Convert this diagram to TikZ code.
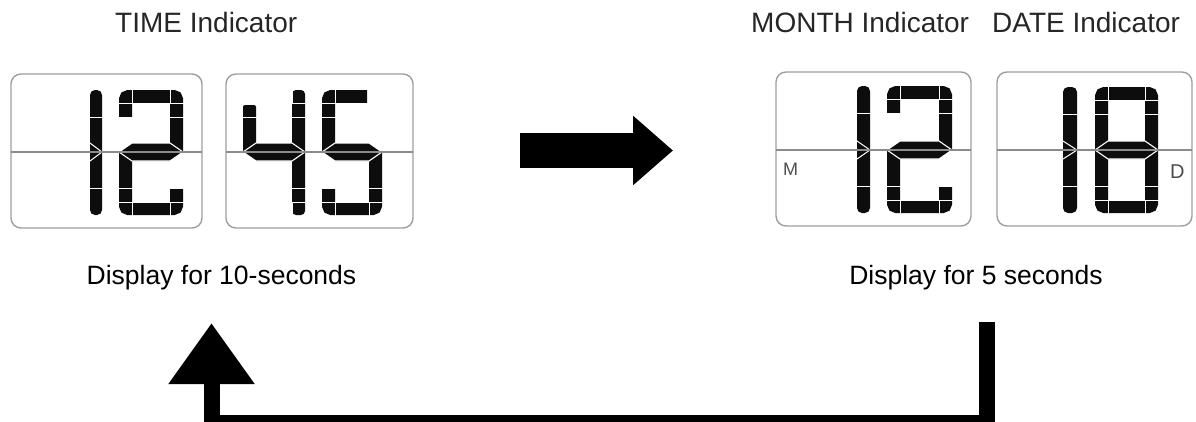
\documentclass[tikz,border=0pt]{standalone}
\usepackage{fontspec}
\setmainfont{Liberation Sans}
\usetikzlibrary{arrows.meta}
\tikzset{
  panel/.style={draw=black!38, line width=1.4pt, rounded corners=10pt, inner sep=0pt},
  midline/.style={draw=black!45, line width=1.1pt},
  digitline/.style={draw=black!95, line width=13pt, rounded corners=3pt, line cap=butt},
  digitbar/.style={fill=black!95, rounded corners=5pt},
  hexseg/.style={fill=black!95, draw=white, line width=1.1pt, line join=miter},
  gapline/.style={draw=white, line width=1pt},
  toplabel/.style={inner sep=0pt, text=black!85, font=\fontsize{28}{30}\selectfont},
  botlabel/.style={inner sep=0pt, text=black, font=\fontsize{26.5}{30}\selectfont},
  sidelabel/.style={inner sep=0pt, text=black!70},
  bigarrow/.style={line width=35pt, draw=black, -{Triangle[width=67pt,length=40pt]}},
  loopline/.style={line width=16pt, draw=black, line join=miter, -{Triangle[width=82pt,length=61pt]}}
}
% #1 L, #2 R, #3 T, #4 B
\newcommand\DigGaps[4]{%
  \draw[gapline] ({#1-1},{#3+13}) -- ({#2+1},{#3+13});
  \draw[gapline] ({#1-1},{#3+27}) -- ({#2+1},{#3+27});
  \draw[gapline] ({#1-1},{#4-27}) -- ({#2+1},{#4-27});
  \draw[gapline] ({#1-1},{#4-13}) -- ({#2+1},{#4-13});
  \draw[gapline] ({#1+13},{#3-1}) -- ({#1+13},{#3+13});
  \draw[gapline] ({#2-13},{#3-1}) -- ({#2-13},{#3+13});
  \draw[gapline] ({#1+13},{#4+1}) -- ({#1+13},{#4-13});
  \draw[gapline] ({#2-13},{#4+1}) -- ({#2-13},{#4-13});
}
% middle hexagon: #1 L, #2 R, #3 M
\newcommand\DigMid[3]{%
  \filldraw[hexseg] (#1,#3) -- ({#1+13},{#3-9}) -- ({#2-13},{#3-9}) -- (#2,#3)
    -- ({#2-13},{#3+9}) -- ({#1+13},{#3+9}) -- cycle;
}
% one: #1 L, #2 R, #3 T, #4 B, #5 M
\newcommand\DigOne[5]{%
  \fill[digitbar] (#1,#3) rectangle (#2,#4);
  \draw[gapline] (#1,{#5-9}) -- (#2,#5) -- (#1,{#5+9});
  \draw[gapline] ({#1-1},{#3+27}) -- ({#2+1},{#3+27});
  \draw[gapline] ({#1-1},{#4-27}) -- ({#2+1},{#4-27});
}
\newcommand\DigTwo[5]{%
  \draw[digitline] ({#1+6.5},{#3+27}) -- ({#1+6.5},{#3+6.5}) -- ({#2-6.5},{#3+6.5}) -- ({#2-6.5},#5);
  \draw[digitline] ({#1+6.5},#5) -- ({#1+6.5},{#4-6.5}) -- ({#2-6.5},{#4-6.5}) -- ({#2-6.5},{#4-27});
  \DigMid{#1}{#2}{#5}
  \DigGaps{#1}{#2}{#3}{#4}
}
\newcommand\DigFour[5]{%
  \fill[digitbar, rounded corners=2pt] (#1,{#3+15}) rectangle ({#1+13},#5);
  \fill[digitbar, rounded corners=4pt] ({#2-13},#3) rectangle (#2,#4);
  \DigMid{#1}{#2}{#5}
  \DigGaps{#1}{#2}{#3}{#4}
}
\newcommand\DigFive[5]{%
  \draw[digitline] ({#2-15},{#3+6.5}) -- ({#1+6.5},{#3+6.5}) -- ({#1+6.5},#5);
  \draw[digitline] ({#1+6.5},{#4-27}) -- ({#1+6.5},{#4-6.5}) -- ({#2-6.5},{#4-6.5}) -- ({#2-6.5},#5);
  \DigMid{#1}{#2}{#5}
  \DigGaps{#1}{#2}{#3}{#4}
}
\newcommand\DigEight[5]{%
  \draw[digitline] ({#1+6.5},{#3+6.5}) rectangle ({#2-6.5},{#4-6.5});
  \DigMid{#1}{#2}{#5}
  \DigGaps{#1}{#2}{#3}{#4}
}
\begin{document}
\begin{tikzpicture}[x=1pt, y=-1pt]
\useasboundingbox (0,0) rectangle (1196,421);

% panels
\node[panel, minimum width=191pt, minimum height=154pt] (p1) at (106.5,151) {};
\node[panel, minimum width=187pt, minimum height=154pt] (p2) at (319.5,151) {};
\node[panel, minimum width=195pt, minimum height=154pt] (p3) at (873.5,149) {};
\node[panel, minimum width=195pt, minimum height=154pt] (p4) at (1094.5,149) {};

% digits
\DigOne{90}{102}{90}{215}{152}
\DigTwo{119}{183}{90}{215}{152}
\DigFour{243}{305}{90}{215}{152}
\DigFive{322}{382}{90}{215}{152}
\DigOne{857}{870}{86}{213}{150}
\DigTwo{887}{952}{86}{213}{150}
\DigOne{1063}{1077}{87}{213}{150}
\DigEight{1095}{1158}{87}{213}{150}

% mid lines
\draw[midline] (11,152) -- (202,152);
\draw[midline] (226,152) -- (413,152);
\draw[midline] (776,150) -- (971,150);
\draw[midline] (997,150) -- (1192,150);

% side letters
\node[sidelabel, anchor=base west, font=\fontsize{18}{20}\selectfont] (mlab) at (783,175) {M};
\node[sidelabel, anchor=base west, font=\fontsize{20}{22}\selectfont] (dlab) at (1170,178) {D};

% labels
\node[toplabel, anchor=base west] (tl1) at (115,32) {TIME Indicator};
\node[toplabel, anchor=base west] (tl2) at (751,32) {MONTH Indicator};
\node[toplabel, anchor=base west] (tl3) at (992,32) {DATE Indicator};
\node[botlabel, anchor=base] (bl1) at (221.5,284) {Display for 10-seconds};
\node[botlabel, anchor=base] (bl2) at (976,284) {Display for 5 seconds};

% big right arrow
\coordinate (raA) at (520,150.5);
\coordinate (raB) at (673,150.5);
\draw[bigarrow] (raA) -- (raB);

% return loop
\coordinate (lpA) at (986.5,322);
\coordinate (lpC) at (986.5,423);
\coordinate (lpB) at (211.5,323);
\draw[loopline] (lpA) -- (lpC) -| (lpB);
\end{tikzpicture}
\end{document}
